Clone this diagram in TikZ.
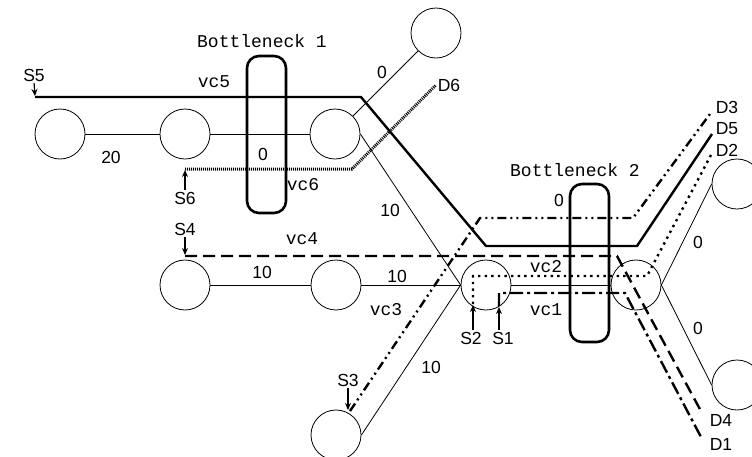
\documentclass[tikz,border=0pt]{standalone}
\usepackage{fontspec}
\setmainfont{Liberation Sans}
\setmonofont{Liberation Mono}
\usetikzlibrary{arrows.meta}

\begin{document}
\begin{tikzpicture}[x=1pt,y=-1pt,
    router/.style={circle,draw,line width=0.8pt,minimum size=50pt,inner sep=0pt},
    lbl/.style={inner sep=0.5pt,font=\fontsize{17.5}{19}\selectfont},
    vclbl/.style={inner sep=1pt,font=\ttfamily\fontsize{18}{20}\selectfont},
    bneck/.style={draw,line width=2.6pt,rounded corners=12pt,minimum width=39pt,inner sep=0pt},
    link/.style={line width=0.8pt},
    vcline/.style={line width=2.4pt},
    src/.style={-{Stealth[length=7pt,width=6pt]},line width=1.2pt,shorten <=1pt,shorten >=1pt}]

    \useasboundingbox (0,0) rectangle (752,456);

    \node[router] (a) at (60,134) {};
    \node[router] (b) at (185,134) {};
    \node[router] (c) at (335,134) {};
    \node[router] (t) at (436,33) {};
    \node[router] (e) at (185,285) {};
    \node[router] (f) at (336,285) {};
    \node[router] (g) at (486,285) {};
    \node[router] (h) at (636,285) {};
    \node[router] (i) at (737,184) {};
    \node[router] (j) at (737,385) {};
    \node[router] (k) at (336,435) {};

    \draw[link] (a.east)--(b.west);
    \draw[link] (b.east)--(c.west);
    \draw[link] (c)--(t);
    \draw[link] (c.east)--(g.west);
    \draw[link] (e.east)--(f.west);
    \draw[link] (f.east)--(g.west);
    \draw[link] (k.east)--(g.west);
    \draw[link] (g.east)--(h.west);
    \draw[link] (h.east)--(i.west);
    \draw[link] (h.east)--(j.west);

    \node[lbl] (w1) at (111,157) {20};
    \node[lbl] (w2) at (263,154) {0};
    \node[lbl] (w3) at (382,72) {0};
    \node[lbl] (w4) at (390,210) {10};
    \node[lbl] (w5) at (262,272) {10};
    \node[lbl] (w6) at (397,276) {10};
    \node[lbl] (w7) at (431,367) {10};
    \node[lbl] (w8) at (559,200) {0};
    \node[lbl] (w9) at (698,242) {0};
    \node[lbl] (w10) at (698,328) {0};

    \node[bneck,minimum height=157pt] (bn1) at (266.5,134.5) {};
    \node[bneck,minimum height=158pt] (bn2) at (589.5,263) {};
    \node[vclbl] (bl1) at (262,41) {Bottleneck 1};
    \node[vclbl] (bl2) at (575,170) {Bottleneck 2};

    \coordinate (v5s) at (35,97);
    \coordinate (v5d) at (712,134);
    \coordinate (v6s) at (185,169);
    \coordinate (v6d) at (436,85);
    \coordinate (v4s) at (185,256);
    \coordinate (v4d) at (702,413);
    \coordinate (v3s) at (350,411);
    \coordinate (v3d) at (710,114);
    \coordinate (v2s) at (473,304);
    \coordinate (v2d) at (711,155);
    \coordinate (v1s) at (499,306);
    \coordinate (v1d) at (701,437);

    \draw[vcline] (v5s) -- (361,97) -- (486,246) -- (637,246) -- (v5d);
    \draw[vcline,line width=3pt,dash pattern=on 1pt off 1pt] (v6s) -- (352,169) -- (v6d);
    \draw[vcline,dash pattern=on 12pt off 6pt] (v4s) -- (617,256) -- (v4d);
    \draw[vcline,dash pattern=on 9pt off 4pt on 2pt off 4pt on 2pt off 4pt] (v3s) -- (480,218) -- (633,218) -- (v3d);
    \draw[vcline,dash pattern=on 2.4pt off 4.2pt] (v2s) -- (473,276) -- (647,276) -- (v2d);
    \draw[vcline,dash pattern=on 13pt off 4pt on 3pt off 4pt] (v1s) -- (499,293) -- (625,293) -- (v1d);

    \node[vclbl] (n5) at (214,82) {vc5};
    \node[vclbl] (n6) at (303,185) {vc6};
    \node[vclbl] (n4) at (302,239) {vc4};
    \node[vclbl] (n3) at (386,310) {vc3};
    \node[vclbl] (n2) at (546,267) {vc2};
    \node[vclbl] (n1) at (546,310) {vc1};

    \node[lbl] (s5) at (34,75) {S5};
    \node[lbl] (s6) at (185,198) {S6};
    \node[lbl] (s4) at (185,229) {S4};
    \node[lbl] (s3) at (348,380) {S3};
    \node[lbl] (s2) at (471,338) {S2};
    \node[lbl] (s1) at (503,338) {S1};

    \draw[src] (s5.south) -- (v5s);
    \draw[src] (s6.north) -- (v6s);
    \draw[src] (s4.south) -- (v4s);
    \draw[src] (s3.south) -- (s3.south |- v3s);
    \draw[src] (v2s |- s2.north) -- (v2s);
    \draw[src] (v1s |- s1.north) -- (v1s);

    \node[lbl] (d6) at (449,85) {D6};
    \node[lbl] (d3) at (727,107) {D3};
    \node[lbl] (d5) at (727,129) {D5};
    \node[lbl] (d2) at (727,150) {D2};
    \node[lbl] (d4) at (721,420) {D4};
    \node[lbl] (d1) at (721,444) {D1};
\end{tikzpicture}
\end{document}
